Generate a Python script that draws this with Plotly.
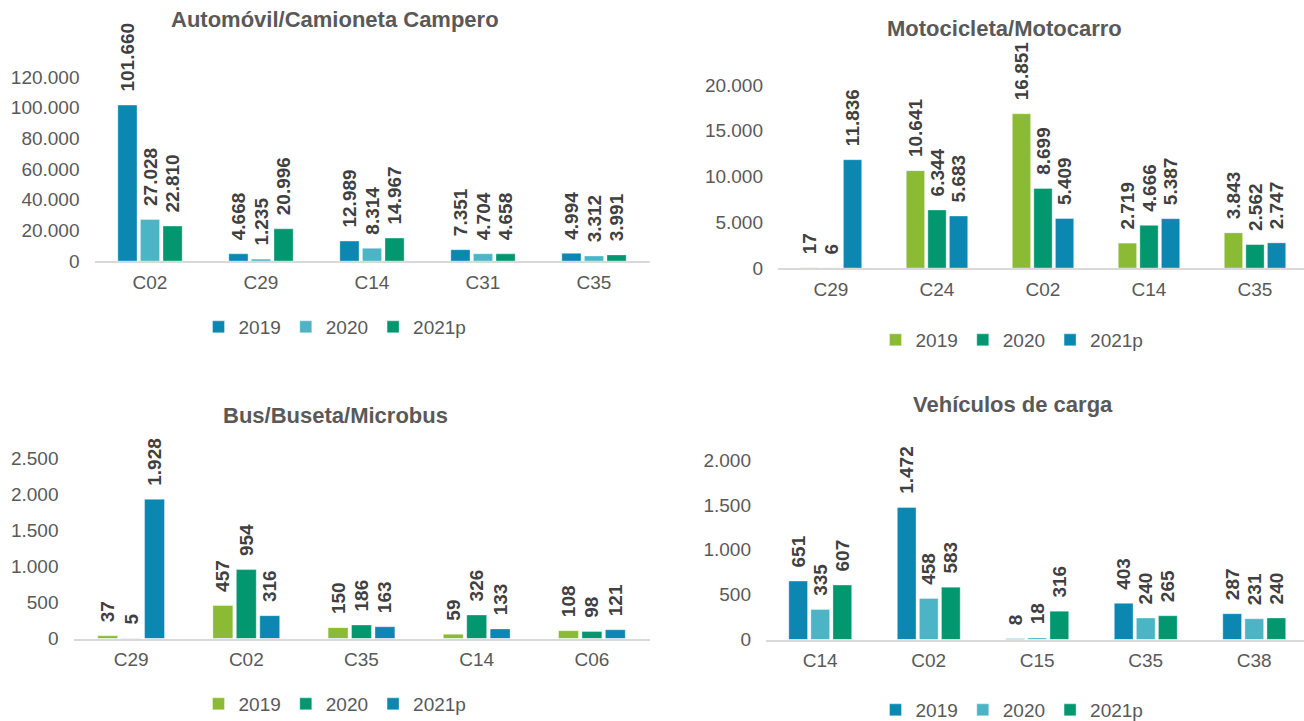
import plotly.graph_objects as go

# ---------------- DATA ----------------
series_names = ["2019", "2020", "2021p"]

auto_cats = ["C02", "C29", "C14", "C31", "C35"]
auto_2019 = [101660, 4668, 12989, 7351, 4994]
auto_2020 = [27028, 1235, 8314, 4704, 3312]
auto_2021 = [22810, 20996, 14967, 4658, 3991]

moto_cats = ["C29", "C24", "C02", "C14", "C35"]
moto_2019 = [17, 10641, 16851, 2719, 3843]
moto_2020 = [6, 6344, 8699, 4666, 2562]
moto_2021 = [11836, 5683, 5409, 5387, 2747]

bus_cats = ["C29", "C02", "C35", "C14", "C06"]
bus_2019 = [37, 457, 150, 59, 108]
bus_2020 = [5, 954, 186, 326, 98]
bus_2021 = [1928, 316, 163, 133, 121]

carga_cats = ["C14", "C02", "C15", "C35", "C38"]
carga_2019 = [651, 1472, 8, 403, 287]
carga_2020 = [335, 458, 18, 240, 231]
carga_2021 = [607, 583, 316, 265, 240]

titles = ["Automóvil/Camioneta Campero", "Motocicleta/Motocarro",
          "Bus/Buseta/Microbus", "Vehículos de carga"]

# ---------------- STYLE ----------------
BLUE = "#0B87B1"
TEAL = "#4BB5C5"
GREEN = "#03976F"
LIME = "#8BBA34"
FONT = "Arial, 'Liberation Sans', sans-serif"
GREY = "#595959"
LABEL = "#404040"

palette_a = [BLUE, TEAL, GREEN]
palette_b = [LIME, GREEN, BLUE]

W, H = 1304, 721

def px_x(v):
    return v / W

def px_y(v):
    return 1 - v / H

panels = [
    dict(cats=auto_cats, vals=[auto_2019, auto_2020, auto_2021], pal=palette_a,
         xd=[px_x(94.5), px_x(649.5)], yd=[px_y(261), px_y(77)], xr=[-0.5, 4.5],
         yr=[0, 120000], dt=20000, title=(335, 20), leg=(335, 327)),
    dict(cats=moto_cats, vals=[moto_2019, moto_2020, moto_2021], pal=palette_b,
         xd=[px_x(778), 1.0], yd=[px_y(268), px_y(85)], xr=[-0.5, -0.5 + 526 / 106],
         yr=[0, 20000], dt=5000, title=(1004, 29), leg=(1012, 340)),
    dict(cats=bus_cats, vals=[bus_2019, bus_2020, bus_2021], pal=palette_b,
         xd=[px_x(73.5), px_x(649.5)], yd=[px_y(638.5), px_y(458)], xr=[-0.5, 4.5],
         yr=[0, 2500], dt=500, title=(335, 415), leg=(335, 704)),
    dict(cats=carga_cats, vals=[carga_2019, carga_2020, carga_2021], pal=palette_a,
         xd=[px_x(766), 1.0], yd=[px_y(639.5), px_y(460)], xr=[-0.5, -0.5 + 538 / 108.5],
         yr=[0, 2000], dt=500, title=(1013, 404), leg=(1012, 710)),
]

fig = go.Figure()
layout = dict(
    width=W, height=H,
    margin=dict(l=0, r=0, t=0, b=0, autoexpand=False),
    paper_bgcolor="white", plot_bgcolor="white",
    separators=",.",
    barmode="group", bargap=0.39, bargroupgap=0.15,
    font=dict(family=FONT, color=GREY, size=19),
    annotations=[],
)

for i, p in enumerate(panels):
    n = "" if i == 0 else str(i + 1)
    xa, ya = "x" + n, "y" + n
    leg = "legend" + n
    for s, name in enumerate(series_names):
        fig.add_trace(go.Bar(
            x=p["cats"], y=p["vals"][s], name=name,
            xaxis=xa, yaxis=ya, legend=leg,
            marker=dict(color=p["pal"][s], line=dict(color="rgba(255,255,255,0.6)", width=0.6)),
            texttemplate="\u00a0\u00a0%{y:,.0f}", textposition="outside",
            textangle=-90, cliponaxis=False, constraintext="none",
            textfont=dict(family=FONT, size=19, color=LABEL, weight="bold"),
            hoverinfo="x+y+name",
        ))
    layout["xaxis" + n] = dict(
        domain=p["xd"], anchor=ya, type="category", range=p["xr"],
        showgrid=False, showline=True, linecolor="#D9D9D9", linewidth=2,
        ticks="", tickfont=dict(size=19, color=GREY, family=FONT),
        ticklabelstandoff=3, zeroline=False, automargin=False,
    )
    layout["yaxis" + n] = dict(
        domain=p["yd"], anchor=xa, range=p["yr"], dtick=p["dt"],
        tickformat=",.0f", showgrid=False, showline=False, zeroline=False,
        ticks="", tickfont=dict(size=19, color=GREY, family=FONT),
        ticklabelstandoff=14, automargin=False,
    )
    layout[leg] = dict(
        orientation="h", x=px_x(p["leg"][0]), y=px_y(p["leg"][1]),
        xanchor="center", yanchor="middle",
        font=dict(size=19, color=GREY, family=FONT),
        bgcolor="rgba(0,0,0,0)", itemclick=False, itemdoubleclick=False,
        tracegroupgap=0,
    )
    layout["annotations"].append(dict(
        text="<b>" + titles[i] + "</b>", xref="paper", yref="paper",
        x=px_x(p["title"][0]), y=px_y(p["title"][1]),
        xanchor="center", yanchor="middle", showarrow=False,
        font=dict(size=22, color=GREY, family=FONT),
    ))

fig.update_layout(**layout)
fig.write_html(
    "out.html",
    config={"displayModeBar": False},
    post_script="document.body.style.margin='0';document.body.style.overflow='hidden';",
)
